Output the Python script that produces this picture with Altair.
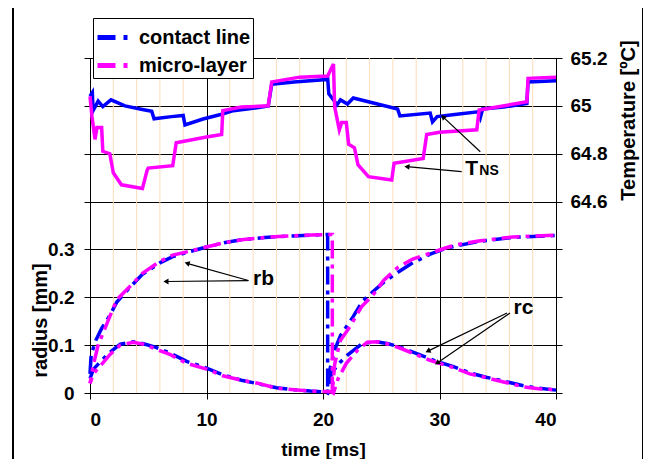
import altair as alt
import pandas as pd

# ---------------- data ----------------
SERIES = ["contact line", "micro-layer"]
COLORS = ["#0000FF", "#FF00FF"]

# bubble radius rb, contact line
cl_rb_t = [0.0, 0.1, 0.5, 1.0, 1.7, 2.3, 3.4, 4.5, 6.0, 7.1, 8.5, 10.0, 11.5, 13.0, 15.0, 17.0, 19.0, 20.3,
           20.4, 20.4, 20.6, 21.0, 21.5, 22.6, 23.4, 24.3, 25.2, 26.4, 27.7, 29.2, 30.5, 31.5, 33.5, 36.3, 38.0, 40.0]
cl_rb = [0.04, 0.08, 0.11, 0.135, 0.162, 0.19, 0.22, 0.248, 0.272, 0.285, 0.295, 0.305, 0.314, 0.32, 0.325, 0.328, 0.330, 0.331,
         0.331, 0.0, 0.05, 0.09, 0.12, 0.16, 0.192, 0.212, 0.231, 0.252, 0.272, 0.29, 0.302, 0.308, 0.317, 0.325, 0.327, 0.329]
# bubble radius rb, micro-layer
ml_rb_t = [0.0, 0.3, 0.7, 1.2, 1.7, 2.3, 3.4, 4.5, 6.0, 7.1, 8.5, 10.0, 11.5, 13.0, 15.0, 17.0, 19.0, 20.3,
           20.8, 20.8, 21.0, 21.5, 22.3, 23.3, 24.3, 25.2, 26.4, 27.7, 29.2, 30.5, 31.5, 33.5, 36.3, 38.0, 40.0]
ml_rb = [0.02, 0.06, 0.1, 0.13, 0.16, 0.195, 0.222, 0.25, 0.275, 0.288, 0.296, 0.305, 0.314, 0.32, 0.325, 0.328, 0.330, 0.331,
         0.331, 0.0, 0.06, 0.11, 0.138, 0.18, 0.205, 0.235, 0.262, 0.28, 0.292, 0.303, 0.31, 0.318, 0.326, 0.328, 0.33]
# contact radius rc, contact line
cl_rc_t = [0.0, 0.3, 1.0, 1.7, 2.6, 3.7, 4.6, 5.6, 6.9, 8.3, 10.0, 11.4, 13.1, 14.5, 16.0, 17.5, 18.9, 20.2, 20.4,
           20.6, 21.0, 21.5, 22.1, 23.4, 24.6, 25.6, 26.6, 28.0, 29.0, 30.0, 31.2, 32.6, 34.0, 35.5, 37.2, 38.5, 40.0]
cl_rc = [0.03, 0.05, 0.068, 0.085, 0.102, 0.107, 0.103, 0.096, 0.083, 0.066, 0.052, 0.038, 0.026, 0.019, 0.011, 0.007, 0.004, 0.002, 0.0,
         0.033, 0.05, 0.065, 0.079, 0.104, 0.107, 0.103, 0.096, 0.083, 0.073, 0.064, 0.055, 0.042, 0.033, 0.025, 0.015, 0.01, 0.006]
# contact radius rc, micro-layer
ml_rc_t = [0.0, 0.3, 1.0, 1.7, 2.6, 3.7, 4.6, 5.6, 6.9, 8.3, 10.0, 11.4, 13.1, 14.5, 16.0, 17.5, 18.9, 20.3, 20.8,
           20.9, 21.3, 22.0, 23.0, 23.8, 24.7, 25.6, 26.6, 28.0, 29.0, 30.0, 31.2, 32.6, 34.0, 35.5, 37.2, 38.5, 40.0]
ml_rc = [0.02, 0.04, 0.06, 0.08, 0.1, 0.106, 0.102, 0.092, 0.08, 0.062, 0.05, 0.036, 0.026, 0.02, 0.01, 0.007, 0.004, 0.003, 0.002,
         0.0, 0.03, 0.062, 0.09, 0.106, 0.107, 0.102, 0.094, 0.08, 0.07, 0.062, 0.053, 0.04, 0.032, 0.023, 0.013, 0.009, 0.007]

# nucleation-site temperature T_NS
cl_T_t = [0.0, 0.2, 0.26, 0.7, 1.1, 1.8, 3.0, 4.5, 5.3, 5.5, 7.0, 8.0, 8.15, 9.7, 11.3, 12.3, 14.0, 15.3, 15.6, 17.5, 20.3,
          20.4, 20.5, 20.9, 21.2, 21.5, 22.1, 22.6, 24.5, 26.4, 26.6, 29.2, 29.4, 29.8, 31.5, 33.3, 33.5, 33.7, 35.5, 37.5, 37.6, 40.0]
cl_T = [65.04, 65.055, 64.98, 65.02, 64.997, 65.025, 65.0, 64.985, 64.977, 64.946, 64.955, 64.96, 64.92, 64.945, 64.965, 64.98,
        64.99, 65.0, 65.09, 65.1, 65.11, 65.115, 65.05, 65.025, 65.004, 65.025, 65.008, 65.033, 65.01, 64.987, 64.958, 64.97,
        64.933, 64.955, 64.965, 64.975, 64.95, 64.987, 64.995, 65.01, 65.1, 65.105]
ml_T_t = [0.0, 0.17, 0.43, 0.6, 1.0, 1.1, 1.7, 2.0, 2.7, 4.5, 4.9, 5.0, 7.1, 7.4, 10.0, 11.3, 11.4, 13.0, 15.3, 15.6, 18.0,
          20.4, 20.9, 21.0, 21.4, 21.6, 22.0, 22.2, 22.7, 23.0, 23.9, 25.9, 26.1, 28.6, 28.9, 30.0, 33.2, 33.4, 37.5, 37.6, 40.0]
ml_T = [65.04, 64.955, 64.86, 64.91, 64.91, 64.81, 64.80, 64.72, 64.67, 64.655, 64.73, 64.74, 64.75, 64.846, 64.87, 64.88,
        64.98, 64.995, 65.0, 65.1, 65.12, 65.125, 65.175, 64.996, 64.9, 64.93, 64.93, 64.84, 64.825, 64.754, 64.704, 64.69,
        64.76, 64.78, 64.88, 64.89, 64.9, 64.983, 65.017, 65.115, 65.12]

# minor (orange) vertical grid, every 2 ms
minor_t = [2, 4, 6, 8, 12, 14, 16, 18, 22, 24, 26, 28, 32, 34, 36, 38]

# annotations (data coordinates)
rad_labels = ["rb", "rc"]
rad_label_t = [14.9, 37.2]
rad_label_r = [0.2375, 0.177]
rad_arrow_t1 = [13.6, 13.6, 35.8, 36.05]
rad_arrow_r1 = [0.235, 0.235, 0.167, 0.167]
rad_arrow_t2 = [8.33, 6.52, 29.0, 29.8]
rad_arrow_r2 = [0.271, 0.233, 0.0875, 0.0625]
rad_arrow_angle = [195.6, 180.0, 154.3, 145.6]

T_arrow_t1 = [31.9, 33.5]
T_arrow_T1 = [64.725, 64.808]
T_arrow_t2 = [27.2, 30.3]
T_arrow_T2 = [64.746, 64.954]
T_arrow_angle = [185.2, 223.4]
T_label = ["T", "NS"]
T_label_t = [32.75, 34.25]
T_label_T = [64.736, 64.726]
T_label_size = [21, 14]

# ---------------- tables ----------------
def table(ts, vs, series, kind):
    return pd.DataFrame({"t": ts, "v": vs, "series": series, "kind": kind, "i": range(len(ts))})

rad_df = pd.concat([
    table(cl_rb_t, cl_rb, SERIES[0], "rb"), table(cl_rc_t, cl_rc, SERIES[0], "rc"),
    table(ml_rb_t, ml_rb, SERIES[1], "rb"), table(ml_rc_t, ml_rc, SERIES[1], "rc"),
], ignore_index=True)
T_df = pd.concat([table(cl_T_t, cl_T, SERIES[0], "T"), table(ml_T_t, ml_T, SERIES[1], "T")], ignore_index=True)
minor_df = pd.DataFrame({"t": minor_t})
rad_lab_df = pd.DataFrame({"t": rad_label_t, "r": rad_label_r, "txt": rad_labels})
rad_arr_df = pd.DataFrame({"t1": rad_arrow_t1, "r1": rad_arrow_r1, "t2": rad_arrow_t2, "r2": rad_arrow_r2, "a": rad_arrow_angle})
T_arr_df = pd.DataFrame({"t1": T_arrow_t1, "T1": T_arrow_T1, "t2": T_arrow_t2, "T2": T_arrow_T2, "a": T_arrow_angle})
T_lab_df = pd.DataFrame({"t": T_label_t, "T": T_label_T, "txt": T_label, "s": T_label_size})

FONT = "Liberation Sans"
W, H = 466, 335

xscale = alt.Scale(domain=[0, 40], nice=False, zero=False)
xaxis = alt.Axis(values=[0, 10, 20, 30, 40], title="time [ms]", grid=True, gridColor="#000000", gridWidth=1,
                 labelFontSize=19, labelFontWeight="bold", labelPadding=11, tickSize=6,
                 titleFontSize=19, titleFontWeight="bold", titleY=56, titleBaseline="middle")
rscale = alt.Scale(domain=[0, 0.7], nice=False)
raxis = alt.Axis(values=[0, 0.1, 0.2, 0.3, 0.4, 0.5, 0.6, 0.7], format=".1~f",
                 labelExpr="datum.value <= 0.31 ? datum.label : ''",
                 title="radius [mm]", grid=True, gridColor="#000000", gridWidth=1,
                 labelFontSize=19, labelFontWeight="bold", labelPadding=10, tickSize=6,
                 titleFontSize=20, titleFontWeight="bold", titleX=-50, titleY=262,
                 titleAngle=270, titleAlign="center", titleBaseline="middle")
Tscale = alt.Scale(domain=[63.8, 65.2], nice=False, zero=False)
Taxis = alt.Axis(orient="right", values=[63.8, 64.0, 64.2, 64.4, 64.6, 64.8, 65.0, 65.2], format=".3~g",
                 labelExpr="datum.value >= 64.59 ? datum.label : ''",
                 title="Temperature [ºC]", grid=False,
                 labelFontSize=19, labelFontWeight="bold", labelPadding=8, tickSize=6,
                 titleFontSize=20, titleFontWeight="bold", titleX=72, titleY=62,
                 titleAngle=270, titleAlign="center", titleBaseline="middle")

color = alt.Color("series:N", scale=alt.Scale(domain=SERIES, range=COLORS),
                  legend=alt.Legend(orient="none", legendX=3, legendY=-40, title=None,
                                    symbolType="stroke", symbolDash=[18, 8, 4, 8], symbolSize=900,
                                    symbolStrokeWidth=5, labelFont=FONT, labelFontSize=20, labelFontWeight="bold",
                                    labelColor="#000000", labelOffset=9, strokeColor="#000000", fillColor="#FFFFFF",
                                    padding=2, rowPadding=0))

minor = alt.Chart(minor_df).mark_rule(color="#FCDDBB", strokeWidth=1).encode(x=alt.X("t:Q", scale=xscale, axis=xaxis))

frame_l = alt.Chart(minor_df).mark_rule(color="#000000", strokeWidth=1.5).encode(
    x=alt.value(-77), y=alt.value(-60), y2=alt.value(420))
frame_r = alt.Chart(minor_df).mark_rule(color="#000000", strokeWidth=1.5).encode(
    x=alt.value(553), y=alt.value(-60), y2=alt.value(420))

def rad_line(name, offset):
    return alt.Chart(rad_df).transform_filter(alt.datum.series == name).mark_line(
        strokeWidth=3.5, strokeDash=[18, 6, 4, 6], strokeDashOffset=offset).encode(
        x=alt.X("t:Q", scale=xscale, axis=xaxis),
        y=alt.Y("v:Q", scale=rscale, axis=raxis),
        color=color, detail="kind:N", order="i:Q")

rad_arrows = alt.Chart(rad_arr_df).mark_rule(color="#000000", strokeWidth=1.2).encode(
    x="t1:Q", y="r1:Q", x2="t2:Q", y2="r2:Q")
rad_heads = alt.Chart(rad_arr_df).mark_point(shape="triangle-right", filled=True, color="#000000", size=35, opacity=1).encode(
    x="t2:Q", y="r2:Q", angle=alt.Angle("a:Q", scale=None))
rad_text = alt.Chart(rad_lab_df).mark_text(font=FONT, fontSize=21, fontWeight="bold", color="#000000").encode(
    x="t:Q", y="r:Q", text="txt:N")

radius_layer = alt.layer(minor, rad_line(SERIES[0], 0), rad_line(SERIES[1], 12), rad_arrows, rad_heads, rad_text,
                         frame_l, frame_r)

T_lines = alt.Chart(T_df).mark_line(strokeWidth=3.5).encode(
    x=alt.X("t:Q", scale=xscale, axis=xaxis),
    y=alt.Y("v:Q", scale=Tscale, axis=Taxis),
    color=alt.Color("series:N", scale=alt.Scale(domain=SERIES, range=COLORS), legend=None),
    detail="kind:N", order="i:Q")
T_arrows = alt.Chart(T_arr_df).mark_rule(color="#000000", strokeWidth=1.2).encode(
    x="t1:Q", y="T1:Q", x2="t2:Q", y2="T2:Q")
T_heads = alt.Chart(T_arr_df).mark_point(shape="triangle-right", filled=True, color="#000000", size=35, opacity=1).encode(
    x="t2:Q", y="T2:Q", angle=alt.Angle("a:Q", scale=None))
T_text = alt.Chart(T_lab_df).mark_text(font=FONT, fontWeight="bold", color="#000000").encode(
    x="t:Q", y="T:Q", text="txt:N", size=alt.Size("s:Q", scale=None))

temp_layer = alt.layer(T_lines, T_arrows, T_heads, T_text)

chart = alt.layer(radius_layer, temp_layer).resolve_scale(y="independent").properties(
    width=W, height=H,
    autosize=alt.AutoSizeParams(type="none"),
    padding={"left": 82, "top": 50, "right": 87, "bottom": 66},
).configure(font=FONT).configure_view(stroke="#000000", strokeWidth=1).configure_axis(
    labelFont=FONT, titleFont=FONT, labelColor="#000000", titleColor="#000000",
    domainColor="#000000", tickColor="#000000", domainWidth=1, tickWidth=1,
)

chart.save("out.html", embed_options={"renderer": "svg", "actions": False})
